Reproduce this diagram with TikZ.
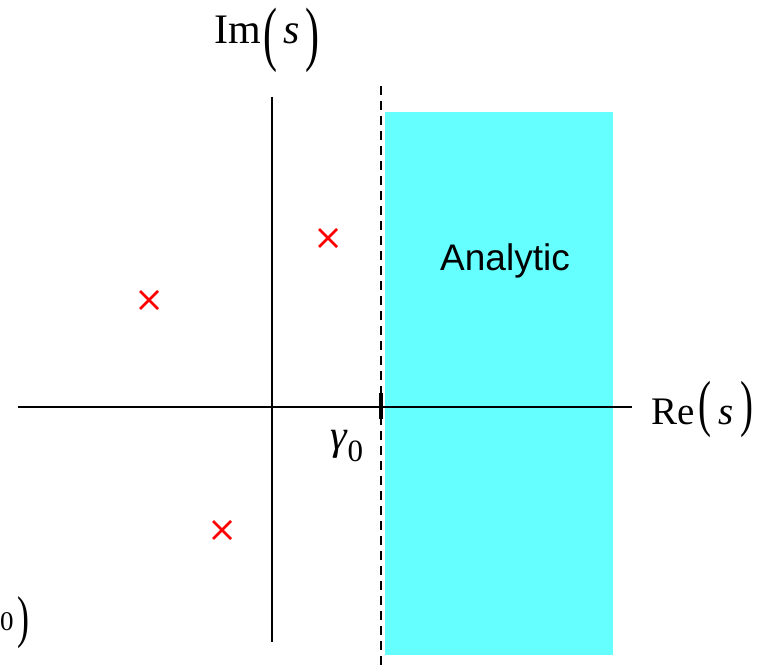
\documentclass[tikz,border=0pt]{standalone}
\usepackage{fontspec}
\usepackage{graphicx}
\setmainfont{Liberation Serif}
\newfontfamily\arialfont{Liberation Sans}
\definecolor{regioncyan}{HTML}{66FFFF}
% tall parenthesis: #1 glyph, #2 vertical scale, #3 raise
\newcommand\tallparen[3]{\raisebox{#3}{\scalebox{1}[#2]{#1}}}
\begin{document}
\begin{tikzpicture}[x=1pt,y=-1pt,
  axis/.style={line width=1.8pt,black},
  pole/.style={red,line width=2.8pt},
  lbl/.style={inner sep=0pt,anchor=base west}]
\clip (0,0) rectangle (774,668);
\fill[white] (0,0) rectangle (774,668);
% analytic region
\fill[regioncyan] (385,112) rectangle (613,655);
\node[inner sep=0pt,font=\arialfont\fontsize{37}{37}\selectfont] (an) at (505,261) {Analytic};
% axes
\coordinate (xl) at (18,407);
\coordinate (xr) at (632,407);
\coordinate (yt) at (272,97);
\coordinate (yb) at (272,642);
\draw[axis] (xl) -- (xr);
\draw[axis] (yt) -- (yb);
% dashed abscissa
\coordinate (dt) at (381,86);
\coordinate (db) at (381,668);
\draw[line width=2pt,dash pattern=on 9pt off 6pt] (dt) -- (db);
\coordinate (tt) at (381,393);
\coordinate (tb) at (381,419);
\draw[line width=4.5pt] (tt) -- (tb);
% labels
\node[lbl,font=\fontsize{42}{42}\selectfont] (im) at (214,44)
  {Im\hspace{3pt}\tallparen{(}{1.7}{-14pt}\hspace{6pt}\textit{s}\hspace{5pt}\tallparen{)}{1.7}{-14pt}};
\node[lbl,font=\fontsize{39}{39}\selectfont] (re) at (651,424)
  {Re\hspace{4pt}\tallparen{(}{1.6}{-1pt}\hspace{7pt}\textit{s}\hspace{7pt}\tallparen{)}{1.6}{-1pt}};
\node[lbl,font=\fontsize{42}{42}\selectfont] (g0) at (330,449)
  {\textit{γ}\raisebox{-12pt}{\fontsize{31}{31}\selectfont 0}};
\node[lbl,font=\fontsize{36}{36}\selectfont] (cut) at (0,630)
  {{\fontsize{27}{27}\selectfont 0}\hspace{4pt}\tallparen{)}{1.6}{-6pt}};
% poles
\foreach \n/\px/\py in {p1/149/300, p2/328/238, p3/222/530}{
  \coordinate (\n) at (\px,\py);
  \draw[pole] ([shift={(-9,-9)}]\n) -- ([shift={(9,9)}]\n);
  \draw[pole] ([shift={(-9,9)}]\n) -- ([shift={(9,-9)}]\n);
}
\end{tikzpicture}
\end{document}
